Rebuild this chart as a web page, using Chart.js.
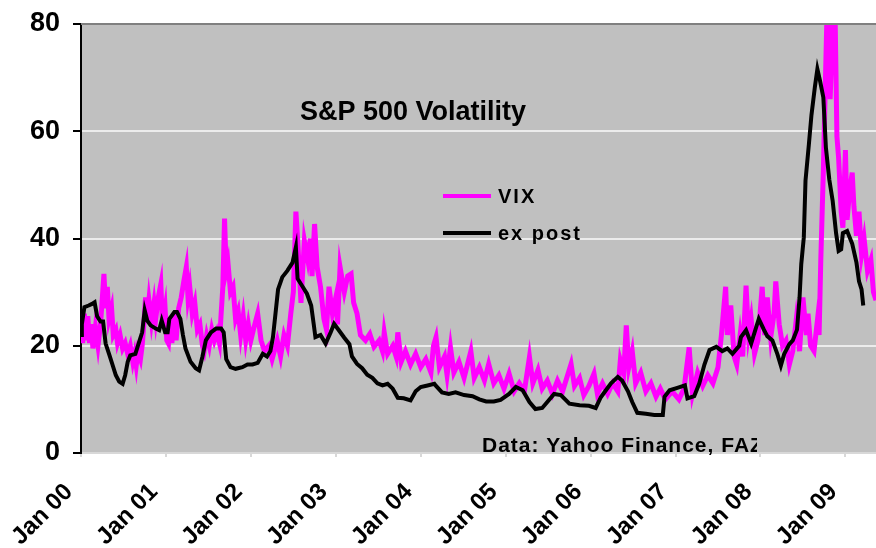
<!DOCTYPE html>
<html>
<head>
<meta charset="utf-8">
<script src="https://cdn.jsdelivr.net/npm/chart.js@4"></script>
<style>
html,body{margin:0;padding:0;background:#fff;}
canvas{display:block;}
</style>
</head>
<body>
<canvas id="c" width="876" height="548"></canvas>
<script>
// Years elapsed since Jan 2000 (x positions) and values
const vixT = [0.00,0.02,0.04,0.06,0.08,0.10,0.12,0.14,0.17,0.20,0.23,0.27,0.29,0.31,0.33,0.36,0.38,0.41,0.43,0.46,0.49,0.52,0.55,0.58,0.61,0.63,0.65,0.67,0.70,0.72,0.74,0.76,0.78,0.80,0.83,0.86,0.88,0.91,0.94,0.96,0.99,1.01,1.03,1.05,1.07,1.10,1.12,1.15,1.18,1.21,1.24,1.26,1.28,1.31,1.34,1.37,1.40,1.43,1.45,1.48,1.51,1.54,1.57,1.60,1.63,1.65,1.67,1.69,1.71,1.73,1.76,1.79,1.82,1.85,1.88,1.91,1.94,1.97,2.00,2.03,2.08,2.12,2.16,2.21,2.25,2.31,2.35,2.39,2.43,2.47,2.50,2.53,2.55,2.59,2.63,2.67,2.70,2.72,2.75,2.78,2.82,2.86,2.89,2.92,2.96,3.00,3.02,3.05,3.10,3.14,3.18,3.21,3.25,3.29,3.35,3.40,3.45,3.51,3.55,3.57,3.61,3.67,3.71,3.73,3.77,3.82,3.88,3.94,4.00,4.06,4.12,4.15,4.18,4.22,4.28,4.31,4.35,4.39,4.45,4.51,4.59,4.63,4.69,4.75,4.80,4.86,4.92,4.98,5.04,5.10,5.16,5.22,5.28,5.32,5.38,5.43,5.49,5.55,5.61,5.67,5.77,5.81,5.87,5.92,5.98,6.04,6.08,6.14,6.20,6.26,6.32,6.35,6.39,6.42,6.45,6.49,6.53,6.59,6.65,6.71,6.77,6.82,6.88,6.96,7.04,7.10,7.16,7.20,7.26,7.32,7.38,7.44,7.50,7.54,7.59,7.61,7.65,7.69,7.72,7.76,7.79,7.83,7.86,7.89,7.93,7.97,8.02,8.05,8.08,8.12,8.16,8.18,8.22,8.26,8.30,8.34,8.38,8.42,8.46,8.50,8.54,8.56,8.59,8.63,8.67,8.69,8.71,8.74,8.78,8.80,8.82,8.85,8.88,8.90,8.92,8.95,8.97,9.00,9.02,9.05,9.08,9.10,9.13,9.16,9.19,9.22,9.26,9.30,9.33,9.36];
const vixValues = [25,20.5,26,21,25.5,20.5,24,19.5,23.5,20,24,33.4,27,31,25,27,22,23,20.5,22,19.5,20.5,18.5,20,17,18.5,16.3,19,17.5,20,24,29,25,28.5,24.5,28,25,29,31.5,24,27,21,20.4,25,20.5,26,21,27,29,32,34.7,29,31,26,28,23,24,20,19,22,20,23,21,22.5,20.5,26,31,43.7,34,35.5,30,31,25,26.5,22,25.5,21,24,21,23,26,21,19,20,17.5,21,18,22,20,26,30,45,40,28,39.6,36,40,33,42.7,34.7,31,25,23,31,26,29,24,34.7,30,33,33.4,28,26,22,21,22.2,19.8,21,19,22.5,18.5,20,18,22.5,17,19,16.5,18.5,16,17.5,15,20,21.6,16,18,14.5,19.7,15,17,14,19,14,16,13.5,16.6,13,14.5,12,14.8,11.5,13,11.5,17.9,13,15.5,12,13.5,11,13.5,11.5,16.6,12.5,14,10.8,12.5,14.8,11,13,11,13,11.5,17.3,15,23.8,16,19,13,15,11.5,13,10.5,12,10,11.5,10,12,19.7,11,15,12.5,14.5,13,16,22,31,22,27.5,18,16.5,22,18,31.2,22,25,18.5,21,31,22,29,21.5,26,32,24,20,21,16.5,19,24.7,19,29,22,26,20,19,24.7,22,36,52.6,80,80,66,80,80,59,55,45,42,56.5,43.5,49,52.3,46,40.5,45,37,40,34,36,30,28.5];

const expostT = [0.00,0.01,0.04,0.09,0.13,0.16,0.19,0.23,0.26,0.29,0.33,0.37,0.41,0.45,0.49,0.52,0.55,0.58,0.64,0.68,0.72,0.75,0.78,0.82,0.88,0.92,0.95,0.99,1.02,1.04,1.10,1.13,1.17,1.20,1.23,1.29,1.35,1.39,1.43,1.47,1.53,1.59,1.65,1.68,1.71,1.76,1.82,1.90,1.96,2.02,2.08,2.14,2.19,2.23,2.26,2.29,2.32,2.37,2.43,2.49,2.53,2.55,2.61,2.66,2.71,2.74,2.76,2.82,2.88,2.94,2.98,3.04,3.10,3.16,3.19,3.25,3.31,3.37,3.43,3.49,3.55,3.61,3.67,3.73,3.80,3.88,3.94,4.00,4.08,4.16,4.18,4.25,4.33,4.41,4.51,4.61,4.69,4.77,4.86,4.94,5.04,5.12,5.20,5.28,5.35,5.43,5.49,5.57,5.65,5.75,5.87,5.98,6.06,6.12,6.18,6.24,6.32,6.37,6.44,6.49,6.55,6.65,6.75,6.85,6.87,6.93,7.03,7.11,7.14,7.22,7.28,7.34,7.40,7.48,7.55,7.61,7.67,7.75,7.77,7.83,7.89,7.95,7.98,8.04,8.08,8.14,8.20,8.24,8.28,8.34,8.38,8.43,8.46,8.48,8.51,8.53,8.57,8.60,8.64,8.67,8.70,8.74,8.77,8.81,8.85,8.89,8.92,8.95,8.97,9.02,9.08,9.13,9.16,9.19,9.21];
const expostValues = [22,24,27.2,27.5,27.8,28.1,25.5,24.5,24.5,20.4,18.5,16.5,14.5,13.3,12.9,14.5,17,18.2,18.5,20.5,22.5,26.6,24.7,23.8,23.2,22.9,24.7,22.5,22.5,25,26.3,26.3,25,22,19.5,17,15.8,15.4,18,21,22.5,23.2,23.2,22.5,17.5,16,15.7,16,16.5,16.5,16.8,18.5,18,19,21.6,26,30.5,32.8,34,35.5,38.4,32.5,31,29.7,27.5,24,21.6,22,20.4,22.5,24.1,22.8,21.5,20.3,18,16.6,15.8,14.6,14,13,12.6,12.9,12,10.3,10.2,9.8,11.5,12.3,12.6,12.9,12.5,11.3,11,11.3,10.8,10.6,10,9.6,9.6,9.9,11,12.3,11.7,9.5,8.2,8.4,9.5,11,10.8,9.2,8.9,8.8,8.4,10.4,11.7,13,14.2,13.5,11.5,9.5,7.5,7.3,7.1,7.1,10.5,11.7,12.2,12.6,10.2,10.6,13,16.5,19.2,19.8,19,19.5,18.5,20,21.6,22.9,20.4,23.5,25,23,21.8,21,18.4,16.3,18.5,20.3,21,23,29,35.2,40.2,50.8,57.6,63,68.2,71.6,69.5,66.3,57,51,47,41,37.7,38,41,41.4,39,35.5,32,30.5,27.5];

const startYear = 2000;
const yTicks = [0, 20, 40, 60, 80];
const seriesNames = ['VIX', 'ex post'];
const titleText = 'S&P 500 Volatility';
const sourceText = 'Data: Yahoo Finance, FAZ';

const FONT = '"Liberation Sans", Arial, sans-serif';

const decor = {
  id: 'decor',
  beforeDraw(chart) {
    const {ctx, chartArea: a} = chart;
    ctx.save();
    ctx.fillStyle = '#fff';
    ctx.fillRect(0, 0, chart.width, chart.height);
    ctx.fillStyle = '#C0C0C0';
    ctx.fillRect(a.left, a.top, a.right - a.left, a.bottom - a.top);
    ctx.restore();
  },
  afterDraw(chart) {
    const {ctx, chartArea: a} = chart;
    ctx.save();
    // top border
    ctx.strokeStyle = '#808080';
    ctx.lineWidth = 2;
    ctx.beginPath();
    ctx.moveTo(a.left, a.top);
    ctx.lineTo(a.right, a.top);
    ctx.stroke();
    // title
    ctx.fillStyle = '#000';
    ctx.font = 'bold 27px ' + FONT;
    ctx.textAlign = 'left';
    ctx.textBaseline = 'alphabetic';
    ctx.fillText(titleText, 300, 120);
    // legend
    const colors = ['#FF00FF', '#000000'];
    const ys = [196, 233];
    ctx.font = 'bold 20px ' + FONT;
    if ('letterSpacing' in ctx) ctx.letterSpacing = '2px';
    ctx.textBaseline = 'middle';
    seriesNames.forEach((n, i) => {
      ctx.strokeStyle = colors[i];
      ctx.lineWidth = 4;
      ctx.beginPath();
      ctx.moveTo(443, ys[i]);
      ctx.lineTo(491, ys[i]);
      ctx.stroke();
      ctx.fillStyle = '#000';
      ctx.fillText(n, 498, ys[i] + 1);
    });
    // source note, clipped like a text box
    ctx.save();
    ctx.beginPath();
    ctx.rect(470, 420, 287, 40);
    ctx.clip();
    ctx.font = 'bold 21px ' + FONT;
    if ('letterSpacing' in ctx) ctx.letterSpacing = '1px';
    ctx.textBaseline = 'alphabetic';
    ctx.fillText(sourceText, 482, 452);
    ctx.restore();
    ctx.restore();
  }
};

new Chart(document.getElementById('c'), {
  type: 'line',
  data: {
    datasets: [
      {
        label: seriesNames[1],
        data: expostT.map((t, i) => ({x: startYear + t, y: expostValues[i]})),
        borderColor: '#000000',
        borderWidth: 4,
        pointRadius: 0,
        tension: 0,
        clip: 0,
        order: 0
      },
      {
        label: seriesNames[0],
        data: vixT.map((t, i) => ({x: startYear + t, y: vixValues[i]})),
        borderColor: '#FF00FF',
        borderWidth: 5,
        pointRadius: 0,
        tension: 0,
        clip: 0,
        order: 1
      }
    ]
  },
  options: {
    responsive: false,
    animation: false,
    devicePixelRatio: 1,
    layout: {padding: {top: 24, right: 0, left: 0, bottom: 0}},
    plugins: {legend: {display: false}, tooltip: {enabled: false}, title: {display: false}},
    scales: {
      x: {
        type: 'linear',
        min: startYear,
        max: startYear + 9.36,
        afterFit(s) { s.height = 95; s.paddingLeft = 0; s.paddingRight = 0; },
        border: {display: true, color: '#D8D8D8', width: 2},
        grid: {display: true, drawOnChartArea: false, drawTicks: true, tickLength: 4, tickColor: '#D8D8D8', lineWidth: 2},
        ticks: {
          stepSize: 1,
          includeBounds: false,
          autoSkip: false,
          minRotation: 45,
          maxRotation: 45,
          padding: 21,
          labelOffset: -12,
          color: '#000',
          font: {family: FONT, size: 24, weight: 'bold'},
          callback: (v) => Number.isInteger(v) ? 'Jan ' + String(v - startYear).padStart(2, '0') : ''
        }
      },
      y: {
        min: yTicks[0],
        max: yTicks[yTicks.length - 1],
        afterFit(s) { s.width = 81; s.paddingTop = 0; s.paddingBottom = 0; },
        afterBuildTicks(s) { s.ticks = yTicks.map(v => ({value: v})); },
        border: {display: true, color: '#000', width: 2},
        grid: {color: '#ECECEC', lineWidth: 2, drawTicks: true, tickLength: 8, tickColor: '#000'},
        ticks: {
          padding: 13,
          color: '#000',
          font: {family: FONT, size: 27, weight: 'bold'}
        }
      }
    }
  },
  plugins: [decor]
});
</script>
</body>
</html>
